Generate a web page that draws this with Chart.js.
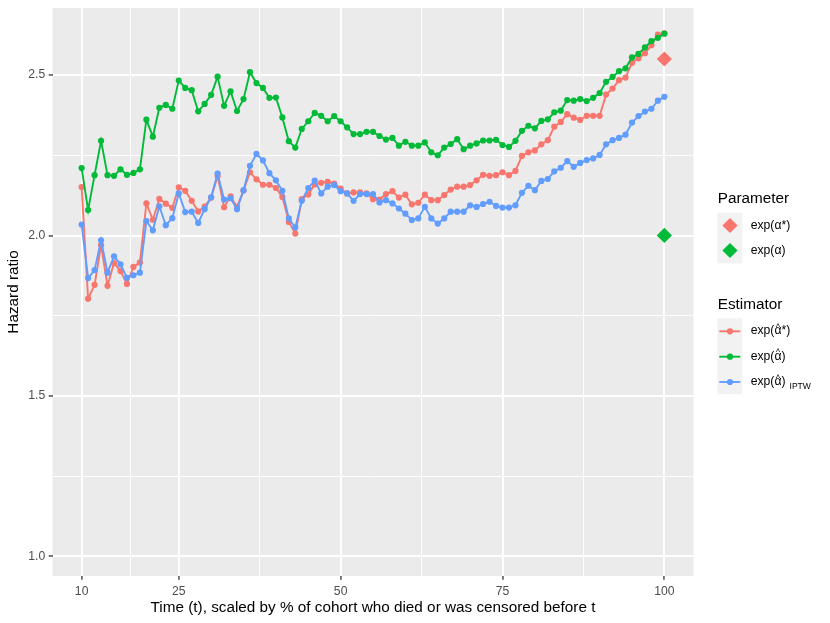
<!DOCTYPE html>
<html><head><meta charset="utf-8">
<script src="https://cdn.jsdelivr.net/npm/chart.js@4.4.1/dist/chart.umd.min.js"></script>
<style>
html,body{margin:0;padding:0;background:#fff;}
#wrap{position:relative;width:830px;height:623px;font-family:"Liberation Sans",Arial,Helvetica,sans-serif;}
canvas{position:absolute;left:0;top:0;}
.lt{position:absolute;font-size:15.3px;line-height:15.3px;color:#000;white-space:nowrap;}
.ll{position:absolute;font-size:12.2px;line-height:14px;color:#000;white-space:nowrap;}
.hat{position:relative;display:inline-block;}
.hat .h{position:absolute;left:0;right:0;top:-0.5px;text-align:center;font-size:8.5px;line-height:8px;}
.sb{font-size:8.5px;position:relative;top:4px;margin-left:4px;}
</style></head>
<body>
<div id="wrap">
<canvas id="c" width="830" height="623"></canvas>
<div class="lt" style="left:717.7px;top:190px;">Parameter</div>
<div class="ll" style="left:750.7px;top:217.5px;">exp(α*)</div>
<div class="ll" style="left:750.7px;top:242.5px;">exp(α)</div>
<div class="lt" style="left:717.7px;top:296.3px;">Estimator</div>
<div class="ll" style="left:750.7px;top:323.3px;">exp(<span class="hat">α<span class="h">^</span></span>*)</div>
<div class="ll" style="left:750.7px;top:348.7px;">exp(<span class="hat">α<span class="h">^</span></span>)</div>
<div class="ll" style="left:750.7px;top:374px;">exp(<span class="hat">α<span class="h">^</span></span>)<span class="sb">IPTW</span></div>
</div>
<script>
const times = [10,11,12,13,14,15,16,17,18,19,20,21,22,23,24,25,26,27,28,29,30,31,32,33,34,35,36,37,38,39,40,41,42,43,44,45,46,47,48,49,50,51,52,53,54,55,56,57,58,59,60,61,62,63,64,65,66,67,68,69,70,71,72,73,74,75,76,77,78,79,80,81,82,83,84,85,86,87,88,89,90,91,92,93,94,95,96,97,98,99,100];

// exp(alpha-hat*) (red)
const estStar = [2.151,1.803,1.846,1.970,1.843,1.914,1.889,1.849,1.902,1.916,
2.100,2.049,2.114,2.099,2.086,2.150,2.139,2.108,2.075,2.090,
2.118,2.185,2.088,2.122,2.089,2.140,2.197,2.175,2.158,2.158,
2.148,2.120,2.042,2.006,2.113,2.128,2.159,2.164,2.167,2.162,
2.146,2.131,2.134,2.134,2.131,2.113,2.112,2.129,2.138,2.118,
2.127,2.097,2.102,2.127,2.110,2.110,2.126,2.143,2.152,2.152,
2.157,2.172,2.189,2.186,2.188,2.197,2.188,2.201,2.248,2.259,
2.265,2.284,2.297,2.339,2.354,2.378,2.367,2.360,2.373,2.373,
2.373,2.439,2.458,2.484,2.492,2.538,2.552,2.568,2.593,2.626,2.630];

// exp(alpha-hat) (green)
const estNaive = [2.210,2.079,2.188,2.295,2.188,2.186,2.206,2.189,2.195,2.206,
2.361,2.308,2.398,2.407,2.395,2.483,2.460,2.453,2.387,2.410,
2.438,2.495,2.404,2.449,2.388,2.425,2.509,2.475,2.460,2.429,
2.430,2.368,2.294,2.274,2.332,2.356,2.382,2.373,2.356,2.372,
2.356,2.337,2.316,2.316,2.323,2.323,2.310,2.299,2.304,2.280,
2.292,2.280,2.280,2.290,2.259,2.250,2.274,2.285,2.300,2.269,
2.280,2.287,2.296,2.296,2.298,2.282,2.276,2.295,2.326,2.342,
2.334,2.357,2.362,2.384,2.389,2.422,2.420,2.425,2.419,2.429,
2.444,2.479,2.494,2.512,2.521,2.555,2.566,2.586,2.606,2.616,2.629];

// exp(alpha-hat) IPTW (blue)
const estIPTW = [2.034,1.867,1.892,1.985,1.884,1.935,1.910,1.868,1.876,1.884,
2.045,2.016,2.091,2.032,2.054,2.131,2.073,2.074,2.039,2.082,
2.119,2.193,2.112,2.116,2.082,2.141,2.217,2.254,2.234,2.194,
2.172,2.139,2.053,2.025,2.108,2.148,2.171,2.131,2.152,2.157,
2.138,2.131,2.108,2.129,2.129,2.129,2.103,2.110,2.100,2.084,
2.068,2.048,2.053,2.089,2.053,2.037,2.053,2.074,2.074,2.074,
2.094,2.089,2.098,2.105,2.092,2.087,2.087,2.094,2.133,2.155,
2.141,2.170,2.176,2.200,2.211,2.232,2.214,2.226,2.235,2.240,
2.251,2.284,2.297,2.304,2.314,2.352,2.372,2.386,2.395,2.420,2.432];

// true parameters
const paramTime = [100];
const paramStar = [2.55];
const paramTrue = [2.00];

const xBreaks = [10,25,50,75,100];
const xMinor = [17.5,37.5,62.5,87.5];
const yBreaks = [1.0,1.5,2.0,2.5];
const yMinor = [1.25,1.75,2.25];

const RED = '#F8766D', GREEN = '#00BA38', BLUE = '#619CFF';

function pts(xs, ys){ return xs.map((x,i)=>({x:x, y:ys[i]})); }
function lineDs(label, ys, color, order){
  return {label, data: pts(times, ys), borderColor: color, backgroundColor: color,
    borderWidth: 1.9, pointRadius: 3.1, pointHoverRadius: 3.1, pointBorderWidth: 0,
    tension: 0, order};
}
function diamondDs(label, ys, color){
  return {label, data: pts(paramTime, ys), showLine: false, borderColor: color, backgroundColor: color,
    pointStyle: 'rectRot', pointRadius: 7.6, pointHoverRadius: 7.6, pointBorderWidth: 0, order: 0};
}

const bgPlugin = {
  id: 'bg',
  beforeDraw(chart){
    const {ctx, chartArea:a} = chart;
    ctx.save(); ctx.fillStyle = '#EBEBEB';
    ctx.fillRect(a.left, a.top, a.right-a.left, a.bottom-a.top); ctx.restore();
  },
  afterDraw(chart){
    const ctx = chart.ctx;
    ctx.save();
    ctx.fillStyle = '#F2F2F2';
    ctx.fillRect(717.3, 212.7, 25, 50.6);
    ctx.fillRect(717.3, 318.3, 25, 76);
    const dia = (cx, cy, r, col) => {
      ctx.fillStyle = col; ctx.beginPath();
      ctx.moveTo(cx-r, cy); ctx.lineTo(cx, cy-r); ctx.lineTo(cx+r, cy); ctx.lineTo(cx, cy+r);
      ctx.closePath(); ctx.fill();
    };
    dia(730, 225.5, 7.6, RED);
    dia(730, 250.5, 7.6, GREEN);
    [[331.3,RED],[356.7,GREEN],[382,BLUE]].forEach(([cy,col])=>{
      ctx.strokeStyle = col; ctx.lineWidth = 1.9;
      ctx.beginPath(); ctx.moveTo(719.3, cy); ctx.lineTo(740.3, cy); ctx.stroke();
      ctx.fillStyle = col; ctx.beginPath(); ctx.arc(730, cy, 3.1, 0, Math.PI*2); ctx.fill();
    });
    ctx.restore();
  }
};

const isMajX = v => xBreaks.includes(v);
const isMajY = v => yBreaks.some(b => Math.abs(b-v) < 1e-9);
const noPad = s => { s.paddingTop = 0; s.paddingBottom = 0; s.paddingLeft = 0; s.paddingRight = 0; };

new Chart(document.getElementById('c'), {
  type: 'line',
  data: { datasets: [
    lineDs('exp(α̂*)', estStar, RED, 3),
    lineDs('exp(α̂)', estNaive, GREEN, 2),
    lineDs('exp(α̂) IPTW', estIPTW, BLUE, 1),
    diamondDs('exp(α*)', paramStar, RED),
    diamondDs('exp(α)', paramTrue, GREEN)
  ]},
  options: {
    responsive: false, animation: false, devicePixelRatio: 1,
    events: [],
    layout: { padding: { left: 0, top: 8, right: 136.5, bottom: 0 } },
    plugins: { legend: { display: false }, tooltip: { enabled: false } },
    scales: {
      x: {
        type: 'linear', min: 5.5, max: 104.5,
        afterBuildTicks: s => { s.ticks = [...xBreaks, ...xMinor].sort((a,b)=>a-b).map(v=>({value:v})); },
        afterFit: s => { s.height = 47; noPad(s); },
        border: { display: false },
        grid: {
          color: '#FFFFFF',
          lineWidth: c => (c.tick && isMajX(c.tick.value)) ? 1.9 : 0.95,
          drawTicks: true, tickLength: 3.8,
          tickColor: c => (c.tick && isMajX(c.tick.value)) ? '#333333' : 'rgba(0,0,0,0)',
          tickWidth: 1.3
        },
        ticks: {
          autoSkip: false, maxRotation: 0, minRotation: 0, color: '#4D4D4D', padding: 5,
          font: { family: '"Liberation Sans", Arial, sans-serif', size: 12.2 },
          callback: v => isMajX(v) ? String(v) : ''
        },
        title: { display: true, text: 'Time (t), scaled by % of cohort who died or was censored before t',
          color: '#000', font: { family: '"Liberation Sans", Arial, sans-serif', size: 15.3 },
          padding: { top: 0, bottom: 5.8 } }
      },
      y: {
        type: 'linear', min: 0.9385, max: 2.709,
        afterBuildTicks: s => { s.ticks = [...yBreaks, ...yMinor].sort((a,b)=>a-b).map(v=>({value:v})); },
        afterFit: s => { s.width = 52.5; noPad(s); },
        border: { display: false },
        grid: {
          color: '#FFFFFF',
          lineWidth: c => (c.tick && isMajY(c.tick.value)) ? 1.9 : 0.95,
          drawTicks: true, tickLength: 3.8,
          tickColor: c => (c.tick && isMajY(c.tick.value)) ? '#333333' : 'rgba(0,0,0,0)',
          tickWidth: 1.3
        },
        ticks: {
          autoSkip: false, color: '#4D4D4D', padding: 3.5,
          font: { family: '"Liberation Sans", Arial, sans-serif', size: 12.2 },
          callback: v => isMajY(v) ? v.toFixed(1) : ''
        },
        title: { display: true, text: 'Hazard ratio', color: '#000',
          font: { family: '"Liberation Sans", Arial, sans-serif', size: 15.3 },
          padding: { top: 4.8, bottom: 0 } }
      }
    }
  },
  plugins: [bgPlugin]
});
</script>
</body></html>
